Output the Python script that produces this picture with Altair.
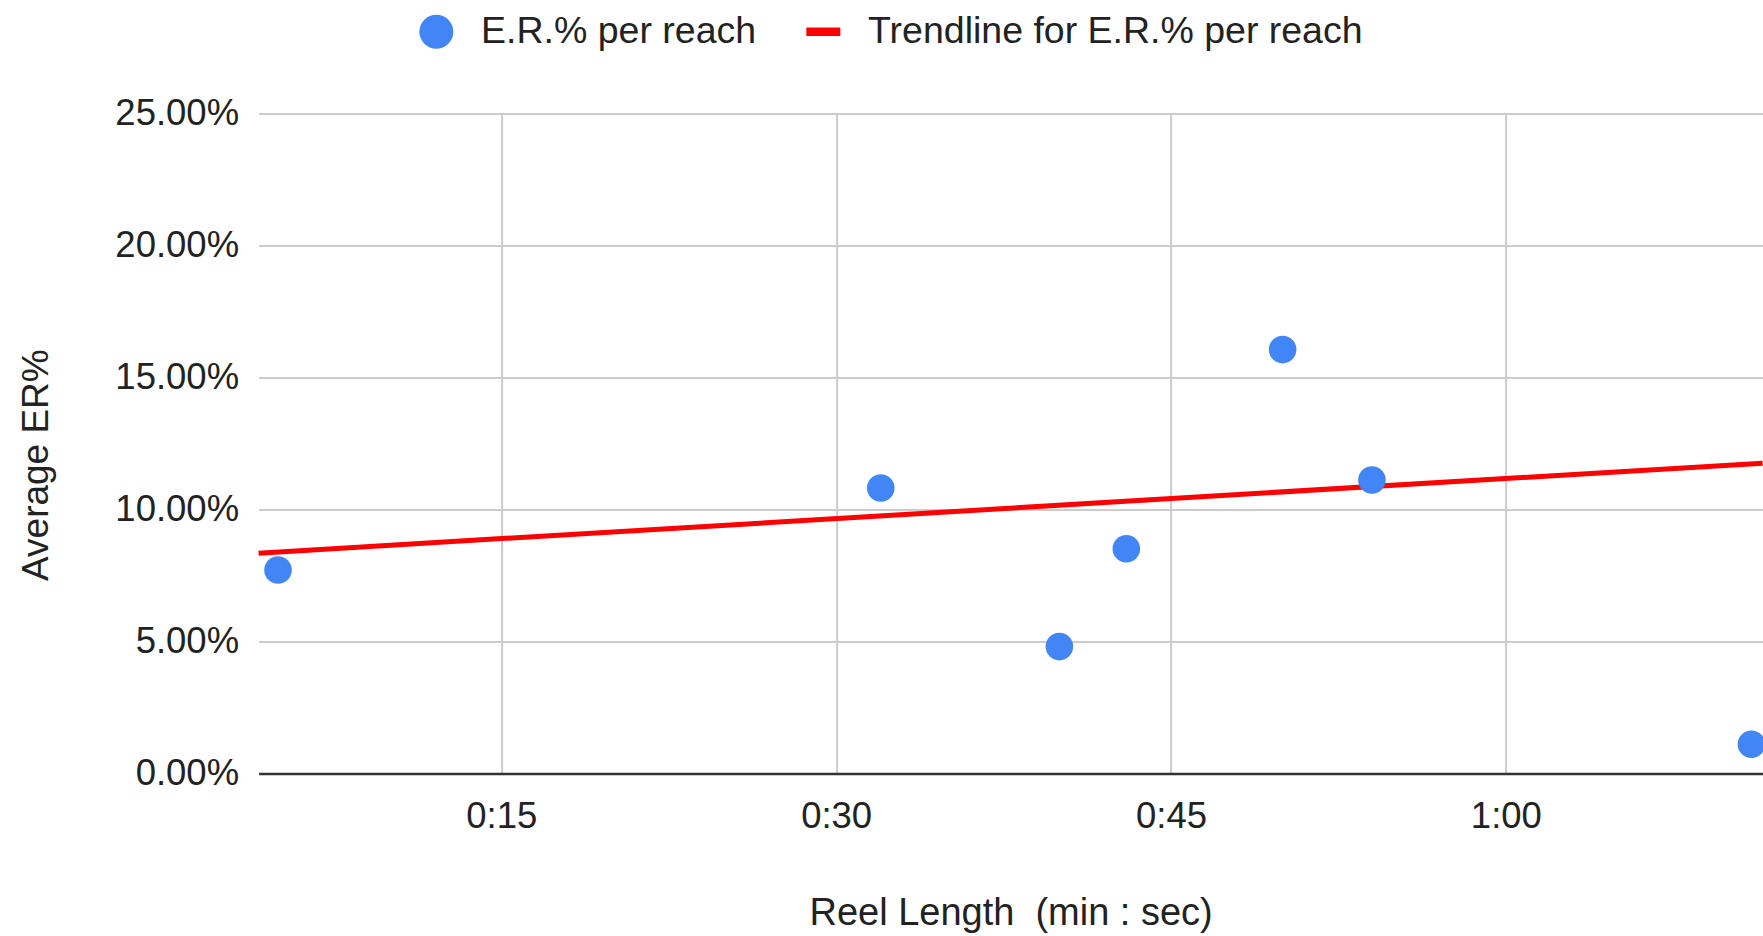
import altair as alt
import pandas as pd

# Data
reel_seconds = [5, 32, 40, 43, 50, 54, 71]
er_percent = [7.71, 10.82, 4.81, 8.52, 16.06, 11.12, 1.11]
trend_seconds = [4.13, 71.5]
trend_percent = [8.35, 11.76]
series_names = ["E.R.% per reach", "Trendline for E.R.% per reach"]
x_ticks = [15, 30, 45, 60]
y_ticks = [0, 0.05, 0.10, 0.15, 0.20, 0.25]

points = pd.DataFrame({
    "sec": reel_seconds,
    "er": [v / 100 for v in er_percent],
    "series": series_names[0],
})
trend = pd.DataFrame({
    "sec": trend_seconds,
    "er": [v / 100 for v in trend_percent],
    "series": series_names[1],
})

FONT = "Liberation Sans"
TEXT = "#222222"

x_scale = alt.Scale(domain=[4.13, 71.5], nice=False, zero=False)
y_scale = alt.Scale(domain=[0, 0.25], nice=False)

x_axis = alt.Axis(
    values=x_ticks,
    labelExpr="floor(datum.value/60) + ':' + (datum.value % 60 < 10 ? '0' : '') + (datum.value % 60)",
    title="Reel Length\u00a0 (min : sec)",
    grid=True,
    gridColor="#cccccc",
    gridWidth=2,
    ticks=False,
    domain=True,
    domainColor="#333333",
    domainWidth=2.5,
    labelFontSize=36.5,
    labelColor=TEXT,
    labelFont=FONT,
    labelPadding=25,
    titleFontSize=38,
    titleFont=FONT,
    titleColor=TEXT,
    titleFontWeight="normal",
    titlePadding=59,
)
y_axis = alt.Axis(
    values=y_ticks,
    format=".2%",
    title="Average ER%",
    grid=True,
    gridColor="#cccccc",
    gridWidth=2,
    ticks=False,
    domain=False,
    labelFontSize=36.5,
    labelColor=TEXT,
    labelFont=FONT,
    labelPadding=20,
    titleFontSize=37,
    titleFont=FONT,
    titleColor=TEXT,
    titleFontWeight="normal",
    titleAngle=-90,
    titleAlign="center",
    titleBaseline="middle",
    titleX=-222,
    titleY=351,
)

color_scale = alt.Scale(domain=series_names, range=["#4285F4", "#FF0000"])
shape_scale = alt.Scale(domain=series_names, range=["circle", "M-1,-0.25H1V0.25H-1Z"])

legend = alt.Legend(
    title=None,
    orient="none",
    direction="horizontal",
    legendX=159,
    legendY=-101,
    labelFontSize=37.5,
    labelFont=FONT,
    labelColor=TEXT,
    labelLimit=1000,
    symbolSize=1156,
    symbolStrokeWidth=0,
    labelOffset=26,
    columnPadding=48,
    symbolOpacity=1,
)

line = alt.Chart(trend).mark_line(strokeWidth=5).encode(
    x=alt.X("sec:Q", scale=x_scale, axis=x_axis),
    y=alt.Y("er:Q", scale=y_scale, axis=y_axis),
    color=alt.Color("series:N", scale=color_scale, legend=legend),
)

pts = alt.Chart(points).mark_point(filled=True, size=760, opacity=1).encode(
    x=alt.X("sec:Q", scale=x_scale, axis=x_axis),
    y=alt.Y("er:Q", scale=y_scale, axis=y_axis),
    color=alt.Color("series:N", scale=color_scale, legend=legend),
    shape=alt.Shape("series:N", scale=shape_scale, legend=legend),
)

chart = alt.layer(line, pts).properties(
    width=1504,
    height=660,
    autosize=alt.AutoSizeParams(type="none"),
    padding={"left": 258.6, "top": 113.6, "right": 0, "bottom": 162.4},
    background="white",
).configure_view(stroke=None)

chart.save("out.html", embed_options={"renderer": "svg", "actions": False})
